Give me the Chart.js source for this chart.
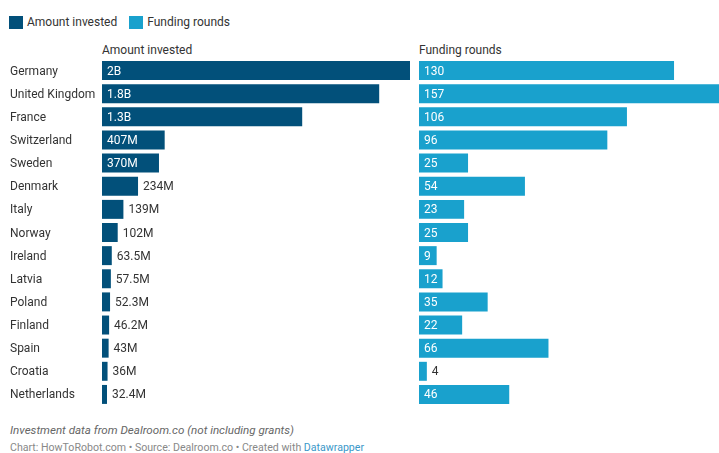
<!DOCTYPE html>
<html>
<head>
<meta charset="utf-8">
<script src="https://cdn.jsdelivr.net/npm/chart.js@4/dist/chart.umd.min.js"></script>
<style>
  html, body { margin: 0; padding: 0; background: #fff; width: 719px; height: 453px; overflow: hidden; }
  body { position: relative; font-family: Roboto, "Noto Sans", sans-serif; color: #333; font-size: 12px; }
  .legend { position: absolute; top: 15px; left: 9px; display: flex; align-items: center; }
  .legend span.sw { display: inline-block; width: 14px; height: 13px; margin-right: 4px; }
  .legend span.lb { margin-right: 12px; }
  .title { position: absolute; top: 43px; font-size: 12px; color: #333; }
  .wrap { position: absolute; top: 59px; height: 347px; }
  .note { position: absolute; left: 10px; top: 423px; font-style: italic; color: #666; font-size: 11.6px; }
  .credit { position: absolute; left: 10px; top: 441px; color: #888; font-size: 10.6px; }
  .credit a { color: #3a98c9; text-decoration: none; }
</style>
</head>
<body>
<div class="legend">
  <span class="sw" style="background:#02507a"></span><span class="lb">Amount invested</span>
  <span class="sw" style="background:#19a1cd"></span><span class="lb">Funding rounds</span>
</div>
<div class="title" style="left:102px">Amount invested</div>
<div class="title" style="left:419px">Funding rounds</div>
<div class="wrap" style="left:0; width:410px"><canvas id="amount"></canvas></div>
<div class="wrap" style="left:419px; width:308px"><canvas id="rounds"></canvas></div>
<div class="note">Investment data from Dealroom.co (not including grants)</div>
<div class="credit">Chart: HowToRobot.com • Source: Dealroom.co • Created with <a>Datawrapper</a></div>
<script>
var countries = ['Germany', 'United Kingdom', 'France', 'Switzerland', 'Sweden', 'Denmark', 'Italy', 'Norway',
                 'Ireland', 'Latvia', 'Poland', 'Finland', 'Spain', 'Croatia', 'Netherlands'];
// millions of euros
var amountInvested = [2000, 1800, 1300, 407, 370, 234, 139, 102, 63.5, 57.5, 52.3, 46.2, 43, 36, 32.4];
var fundingRounds = [130, 157, 106, 96, 25, 54, 23, 25, 9, 12, 35, 22, 66, 4, 46];

var darkBlue = '#02507a';
var lightBlue = '#19a1cd';

function fmtAmount(v) {
    if (v >= 1000) return (v / 1000) + 'B';
    return v + 'M';
}

// value labels: inside the bar in white if they fit, otherwise after it
var valueLabels = {
    id: 'valueLabels',
    afterDatasetsDraw: function (chart, args, opts) {
        var ctx = chart.ctx;
        var meta = chart.getDatasetMeta(0);
        var data = chart.data.datasets[0].data;
        ctx.save();
        ctx.font = '12px Roboto, "Noto Sans", sans-serif';
        ctx.textBaseline = 'middle';
        ctx.textAlign = 'left';
        meta.data.forEach(function (bar, i) {
            var txt = opts.format(data[i]);
            var w = ctx.measureText(txt).width;
            var barW = bar.x - bar.base;
            if (w + 8 <= barW) {
                ctx.fillStyle = '#fff';
                ctx.fillText(txt, bar.base + 5, bar.y + 1);
            } else {
                ctx.fillStyle = '#333';
                ctx.fillText(txt, bar.x + 5, bar.y + 1);
            }
        });
        ctx.restore();
    }
};

function makeChart(id, values, color, showNames, fmt) {
    var el = document.getElementById(id).getContext('2d');
    return new Chart(el, {
        type: 'bar',
        data: {
            labels: countries,
            datasets: [{
                data: values,
                backgroundColor: color,
                borderWidth: 0,
                barPercentage: 0.82,
                categoryPercentage: 1
            }]
        },
        options: {
            indexAxis: 'y',
            responsive: true,
            maintainAspectRatio: false,
            animation: false,
            layout: { padding: { left: showNames ? 10 : 0, right: 0, top: 0, bottom: 0 } },
            plugins: {
                legend: { display: false },
                tooltip: { enabled: false },
                valueLabels: { format: fmt }
            },
            scales: {
                x: {
                    display: false,
                    min: 0,
                    max: Math.max.apply(null, values)
                },
                y: {
                    display: showNames,
                    grid: { display: false },
                    border: { display: false },
                    ticks: {
                        crossAlign: 'far',
                        padding: 0,
                        labelOffset: 1,
                        color: '#333',
                        font: { family: 'Roboto', size: 12 }
                    },
                    afterFit: function (scale) {
                        if (!showNames) return;
                        scale.width = 92;
                        scale.paddingTop = 0;
                        scale.paddingBottom = 0;
                    }
                }
            }
        },
        plugins: [valueLabels]
    });
}

makeChart('amount', amountInvested, darkBlue, true, fmtAmount);
makeChart('rounds', fundingRounds, lightBlue, false, function (v) { return String(v); });
</script>
</body>
</html>
